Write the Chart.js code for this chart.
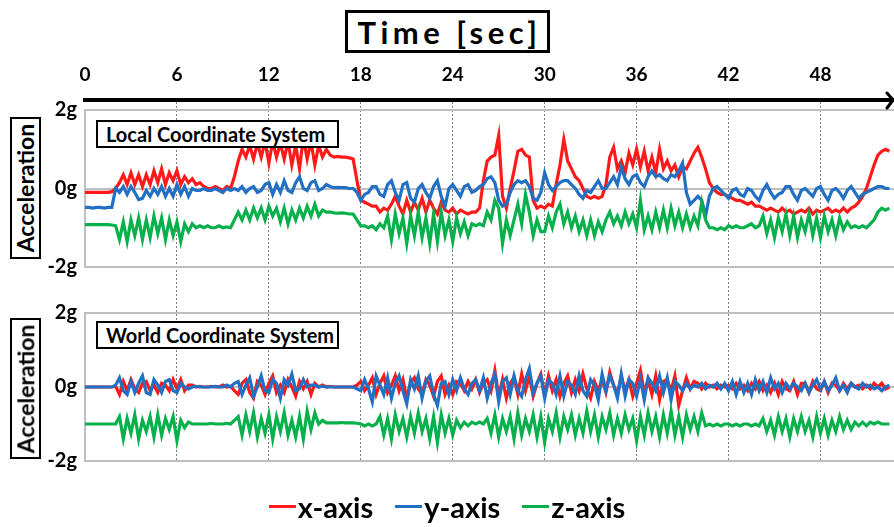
<!DOCTYPE html>
<html>
<head>
<meta charset="utf-8">
<script src="https://cdn.jsdelivr.net/npm/chart.js@4"></script>
<style>
html,body{margin:0;padding:0;background:#fff}
#wrap{position:relative;width:894px;height:527px;overflow:hidden;font-family:Lato,"Open Sans",sans-serif;font-weight:700;color:#000}
#chart{position:absolute;left:0;top:0}
.box{position:absolute;border:2px solid #000;background:#fff;box-sizing:border-box;display:flex;align-items:center;justify-content:center;z-index:2;white-space:nowrap}
#title{left:345px;top:10px;width:205px;height:43px;font-size:31px;letter-spacing:4.5px;padding-left:4px;border-width:3px}
.yname{left:10px;width:31px}
.yname span{transform:rotate(-90deg);white-space:nowrap;font-size:23px}
#yname1{top:117px;height:142px}
#yname2{top:318px;height:141px}
.panel{left:96px;width:243px;height:28px;font-size:20px;justify-content:flex-start;padding-left:8px}
#panel1{top:120px}
#panel2{top:321px}
#legend{position:absolute;left:0;right:0;top:489px;display:flex;justify-content:center;gap:22px;font-size:29px}
.item{display:flex;align-items:center}
.item i{display:inline-block;width:27px;height:3px;margin-right:2px}
</style>
</head>
<body>
<div id="wrap">
  <canvas id="chart" width="894" height="527"></canvas>
  <div class="box" id="title">Time [sec]</div>
  <div class="box yname" id="yname1"><span>Acceleration</span></div>
  <div class="box yname" id="yname2"><span>Acceleration</span></div>
  <div class="box panel" id="panel1">Local Coordinate System</div>
  <div class="box panel" id="panel2">World Coordinate System</div>
  <div id="legend"></div>
</div>
<script>
// samples every quarter second, t = 0 .. 52.5 s (one row = one second)
const step = 0.25;
const timeTicks = [0, 6, 12, 18, 24, 30, 36, 42, 48];
const accelTicks = [-2, -1, 0, 1, 2];
const accelTickLabels = ['-2g', '', '0g', '', '2g'];
const seriesNames = ['x-axis', 'y-axis', 'z-axis'];

// local coordinate system (top panel), in g
const localX = [
  -0.1,-0.1,-0.1,-0.1,  -0.1,-0.1,-0.1,-0.08,  0.0,0.15,0.35,0.1,  0.4,0.1,0.35,0.05,
  0.35,0.1,0.45,0.15,  0.5,0.1,0.4,0.2,  0.45,0.1,0.3,0.15,  0.25,0.1,0.15,0.05,
  0.0,0.0,0.05,0.0,  -0.05,0.05,0.0,0.3,  0.7,1.0,0.8,1.1,  0.75,1.15,0.8,1.2,
  0.65,1.2,0.8,1.15,  0.75,1.2,0.6,1.1,  0.5,1.3,0.75,1.2,  0.6,1.1,0.8,1.0,
  0.85,0.8,0.82,0.8,  0.8,0.78,0.75,0.2,  -0.3,-0.35,-0.4,-0.45,  -0.45,-0.6,-0.5,-0.55,
  -0.4,-0.2,-0.45,-0.65,  -0.3,-0.6,-0.35,-0.55,  -0.25,-0.6,-0.3,-0.5,  -0.65,-0.35,-0.55,-0.6,
  -0.5,-0.65,-0.55,-0.6,  -0.65,-0.6,-0.6,-0.5,  0.2,0.7,0.8,0.85,  1.35,-0.2,-0.5,0.0,
  0.45,0.95,1.0,0.85,  0.8,-0.3,-0.5,-0.45,  -0.5,-0.4,-0.45,0.1,  0.6,1.25,0.7,0.5,
  0.3,0.2,0.0,-0.2,  -0.25,-0.2,-0.25,-0.2,  0.1,0.8,1.05,0.5,  0.7,0.4,0.9,0.6,
  1.0,0.55,0.95,0.45,  0.8,0.4,1.0,0.5,  0.7,0.45,0.6,0.3,  0.55,0.5,0.7,0.9,
  1.05,0.8,0.5,0.15,  0.0,-0.1,-0.15,-0.15,  -0.2,-0.25,-0.3,-0.3,  -0.35,-0.4,-0.35,-0.45,
  -0.45,-0.5,-0.55,-0.5,  -0.55,-0.6,-0.5,-0.6,  -0.55,-0.65,-0.6,-0.55,  -0.6,-0.5,-0.65,-0.55,
  -0.6,-0.55,-0.5,-0.6,  -0.55,-0.6,-0.5,-0.6,  -0.5,-0.45,-0.35,-0.2,  0.0,0.3,0.6,0.85,
  0.95,1.0,0.95];
const localY = [
  -0.48,-0.48,-0.5,-0.48,  -0.48,-0.5,-0.48,-0.48,  0.0,-0.1,0.05,-0.15,  0.05,-0.1,-0.28,-0.25,
  -0.05,-0.2,0.0,-0.15,  0.05,-0.2,0.0,-0.2,  0.1,-0.15,0.05,-0.2,  0.0,-0.05,-0.05,0.0,
  -0.05,-0.05,0.0,-0.05,  -0.1,0.0,-0.05,0.0,  -0.05,0.05,-0.1,0.0,  0.05,-0.1,-0.05,0.1,
  0.15,-0.15,0.1,-0.1,  0.2,-0.05,-0.1,0.15,  0.3,0.0,-0.05,0.15,  0.2,-0.05,0.0,0.1,
  0.05,0.02,0.03,0.02,  0.02,0.0,0.0,-0.1,  -0.3,-0.15,-0.1,0.05,  0.05,-0.15,-0.2,0.1,
  0.2,-0.1,-0.3,0.1,  0.15,-0.25,-0.35,0.0,  0.1,-0.1,-0.25,0.05,  0.2,-0.2,-0.45,0.0,
  0.1,-0.05,-0.2,0.05,  0.1,-0.1,-0.05,0.05,  0.1,0.25,0.3,0.15,  -0.3,-0.45,-0.4,-0.1,
  0.1,0.2,0.15,0.2,  0.05,-0.25,-0.3,-0.1,  0.4,0.1,-0.05,0.05,  0.15,0.2,0.2,0.1,
  0.0,-0.15,-0.25,-0.05,  -0.1,0.05,0.2,0.0,  0.0,0.15,0.3,0.1,  0.55,0.25,0.1,0.3,
  0.35,0.15,0.05,0.3,  0.45,0.3,0.35,0.25,  0.2,0.35,0.3,0.45,  0.65,-0.1,-0.4,-0.3,
  -0.2,-0.3,-0.7,-0.2,  0.0,0.05,-0.05,-0.15,  -0.25,-0.05,0.0,-0.15,  -0.2,0.0,-0.05,-0.2,
  -0.3,-0.05,0.1,-0.1,  -0.25,-0.15,-0.1,0.05,  0.05,-0.15,-0.3,-0.05,  0.0,-0.1,-0.2,0.0,
  0.05,-0.15,-0.3,-0.05,  0.0,-0.1,-0.25,-0.05,  0.05,-0.1,-0.25,-0.15,  -0.1,-0.05,0.0,0.05,
  0.05,0.0,0.0];
const localZ = [
  -0.92,-0.92,-0.92,-0.92,  -0.92,-0.92,-0.92,-0.93,  -0.95,-1.3,-0.85,-1.35,  -0.8,-1.2,-0.75,-1.3,
  -0.8,-1.25,-0.7,-1.15,  -0.75,-1.3,-0.8,-1.2,  -0.85,-1.35,-0.9,-1.1,  -0.9,-1.0,-0.95,-1.0,
  -0.95,-1.0,-1.0,-0.95,  -1.0,-0.98,-1.0,-0.8,  -0.6,-0.8,-0.55,-0.8,  -0.5,-0.75,-0.5,-0.8,
  -0.45,-0.7,-0.5,-0.85,  -0.5,-0.9,-0.55,-0.8,  -0.5,-0.75,-0.45,-0.7,  -0.4,-0.7,-0.55,-0.6,
  -0.6,-0.62,-0.63,-0.62,  -0.63,-0.65,-0.65,-0.8,  -0.95,-0.95,-1.0,-0.95,  -1.05,-0.9,-1.0,-0.7,
  -1.3,-0.65,-1.15,-0.75,  -1.4,-0.7,-1.2,-0.6,  -1.25,-0.75,-1.4,-0.65,  -1.35,-0.6,-1.2,-0.8,
  -1.35,-0.75,-1.15,-0.85,  -1.2,-0.9,-0.95,-0.9,  -0.95,-0.6,-0.8,-0.3,  -0.5,-1.4,-0.8,-1.2,
  -0.8,-0.4,-0.9,-0.15,  -0.6,-1.2,-0.8,-1.1,  -1.1,-0.7,-1.0,-0.6,  -0.4,-0.9,-0.6,-1.0,
  -0.7,-1.1,-0.8,-1.2,  -0.8,-1.2,-0.85,-1.1,  -0.8,-0.6,-0.9,-0.7,  -0.95,-0.6,-0.9,-0.65,
  -1.0,-0.3,-1.05,-0.7,  -1.05,-0.6,-1.0,-0.55,  -1.0,-0.5,-0.95,-0.6,  -1.0,-0.65,-1.0,-0.7,
  -0.95,-0.35,-0.8,-1.0,  -1.0,-1.05,-1.0,-1.05,  -0.95,-1.0,-0.95,-1.0,  -1.0,-0.95,-0.9,-1.0,
  -0.95,-0.7,-1.15,-0.8,  -1.25,-0.75,-1.1,-0.65,  -1.2,-0.7,-1.25,-0.8,  -1.1,-0.65,-1.2,-0.75,
  -1.25,-0.7,-1.1,-0.8,  -1.2,-0.75,-1.05,-0.85,  -1.0,-0.95,-1.0,-0.95,  -1.0,-0.9,-0.8,-0.6,
  -0.5,-0.55,-0.5];

// world coordinate system (bottom panel), in g
const worldX = [
  0,0,0,0,  0,0,0,0,  0.02,-0.2,0.15,-0.1,  0.2,-0.05,-0.15,0.1,
  0.15,-0.1,0.05,-0.15,  0.1,0.05,-0.1,0.2,  -0.05,0.2,-0.1,0.05,  0.05,0.0,0.02,0.0,
  0.0,0.02,0.0,0.0,  0.05,0.0,0.02,-0.1,  -0.2,0.1,0.2,-0.15,  -0.3,0.15,0.05,-0.2,
  0.1,0.3,-0.15,0.05,  -0.15,0.2,0.0,-0.25,  0.15,-0.05,0.15,-0.2,  0.1,0.0,0.05,0.0,
  0.02,0.0,0.0,0.0,  0.0,0.0,0.0,0.05,  0.15,-0.1,0.05,0.25,  -0.2,0.1,0.3,-0.15,
  0.05,0.3,-0.1,0.2,  -0.3,0.1,0.25,-0.05,  -0.2,0.2,0.05,-0.25,  0.15,0.3,-0.2,0.05,
  -0.2,0.15,0.1,-0.1,  0.15,-0.05,0.2,-0.15,  0.1,0.2,-0.1,0.45,  -0.25,0.2,-0.3,0.1,
  0.25,-0.2,0.35,-0.1,  0.3,-0.25,0.1,0.35,  -0.2,0.3,-0.1,0.2,  -0.25,0.1,0.3,-0.15,
  0.2,-0.1,0.35,-0.05,  -0.3,0.15,-0.1,0.2,  -0.15,0.4,0.05,-0.2,  0.3,-0.1,0.2,-0.25,
  0.1,0.45,-0.15,0.2,  -0.2,0.3,-0.35,0.15,  0.2,-0.1,0.3,-0.5,  -0.1,0.25,-0.05,0.15,
  0.1,-0.05,0.1,0.0,  0.05,-0.05,0.05,0.0,  0.05,-0.05,0.1,-0.05,  0.05,-0.1,0.1,-0.05,
  0.15,-0.1,0.05,-0.15,  0.1,-0.2,0.15,-0.05,  -0.1,0.15,-0.2,0.1,  0.1,-0.15,0.15,-0.05,
  -0.1,0.15,-0.15,0.1,  0.05,-0.1,0.1,-0.05,  0.1,0.0,0.05,-0.05,  0.05,-0.05,0.1,0.0,
  0.1,-0.05,0.0];
const worldY = [
  0,0,0,0,  0,0,0,0,  0.05,0.25,-0.1,-0.2,  0.15,-0.15,0.1,0.3,
  -0.15,-0.2,0.2,0.05,  -0.15,0.15,0.2,-0.1,  -0.15,0.1,0.0,-0.05,  0.0,0.02,0.0,0.0,
  0.0,0.0,0.02,0.0,  0.0,0.05,0.0,0.1,  0.15,-0.2,0.05,0.25,  -0.25,0.0,0.3,-0.1,
  -0.15,0.2,0.1,-0.3,  0.2,0.05,0.35,-0.1,  -0.05,0.2,0.0,0.05,  0.05,0.0,0.02,0.0,
  0.0,0.0,0.0,0.0,  0.0,0.0,0.0,-0.05,  -0.1,0.2,-0.05,-0.4,  0.3,0.05,-0.2,0.25,
  -0.3,0.1,0.3,-0.1,  -0.45,0.2,-0.05,0.3,  -0.3,0.15,0.3,-0.2,  -0.5,0.1,0.15,-0.2,
  0.2,-0.1,0.25,-0.05,  -0.2,0.1,0.2,-0.1,  0.25,-0.3,0.1,0.35,  -0.4,0.15,0.25,-0.2,
  0.3,-0.1,-0.25,0.2,  0.5,-0.15,0.1,0.3,  -0.3,0.2,0.1,-0.2,  0.3,-0.25,0.15,0.05,
  -0.2,0.3,-0.1,-0.25,  0.2,0.05,-0.35,0.35,  -0.1,0.3,0.05,-0.3,  0.35,-0.25,0.2,0.1,
  -0.25,0.2,-0.35,0.25,  0.1,-0.1,0.3,-0.15,  0.25,-0.35,0.15,0.05,  -0.1,0.1,-0.05,0.05,
  0.0,0.1,-0.05,0.05,  0.0,0.1,-0.05,0.1,  -0.1,0.15,-0.2,0.15,  -0.15,0.1,-0.2,0.2,
  -0.1,0.15,-0.15,0.25,  -0.05,0.1,-0.15,0.1,  -0.05,0.1,0.0,-0.1,  0.1,-0.15,0.05,0.2,
  -0.05,0.15,-0.1,0.05,  0.25,-0.1,0.05,-0.15,  0.1,0.0,-0.05,0.1,  0.0,0.05,-0.05,0.0,
  -0.1,0.0,0.05];
const worldZ = [
  -1.0,-1.0,-1.0,-1.0,  -1.0,-1.0,-1.0,-1.0,  -1.0,-0.8,-1.4,-0.85,  -1.25,-0.75,-1.4,-0.9,
  -1.2,-0.8,-1.35,-0.75,  -1.3,-0.85,-1.15,-0.8,  -1.45,-0.9,-1.1,-0.95,  -1.0,-1.0,-1.0,-1.0,
  -1.0,-0.98,-1.0,-1.0,  -1.0,-0.98,-1.0,-0.9,  -0.8,-1.3,-0.75,-1.2,  -0.7,-1.35,-0.85,-1.25,
  -0.75,-1.4,-0.8,-1.2,  -0.7,-1.3,-0.9,-1.35,  -0.8,-1.4,-0.65,-1.15,  -0.7,-1.0,-0.9,-0.97,
  -0.97,-0.97,-0.97,-0.96,  -0.97,-0.97,-0.97,-0.98,  -1.0,-1.05,-1.0,-1.05,  -1.0,-0.8,-1.3,-0.85,
  -1.4,-0.75,-1.2,-0.85,  -1.35,-0.8,-1.25,-0.7,  -1.2,-0.85,-1.4,-0.8,  -1.5,-0.75,-1.25,-0.85,
  -1.3,-0.9,-1.1,-0.95,  -1.05,-0.95,-1.0,-0.95,  -1.0,-0.85,-1.25,-0.75,  -1.35,-0.85,-1.2,-0.8,
  -1.4,-0.7,-1.3,-0.85,  -1.2,-0.75,-1.35,-0.8,  -1.5,-0.85,-1.2,-0.7,  -1.35,-0.8,-1.15,-0.75,
  -1.3,-0.85,-1.25,-0.65,  -1.2,-0.75,-1.35,-0.8,  -1.15,-0.7,-1.3,-0.85,  -1.25,-0.75,-1.15,-0.85,
  -1.45,-0.8,-1.3,-0.7,  -1.2,-0.8,-1.35,-0.75,  -1.25,-0.65,-1.3,-0.8,  -1.35,-0.75,-1.15,-0.8,
  -1.2,-0.7,-1.05,-1.0,  -1.05,-1.0,-1.05,-1.0,  -1.0,-1.05,-1.0,-1.05,  -1.0,-1.0,-1.05,-1.0,
  -1.05,-0.85,-1.2,-0.9,  -1.3,-0.8,-1.2,-0.85,  -1.35,-0.85,-1.2,-0.8,  -1.2,-0.9,-1.35,-0.8,
  -1.25,-0.85,-1.3,-0.9,  -1.2,-0.8,-1.15,-0.9,  -1.15,-0.95,-1.05,-0.95,  -1.05,-0.95,-1.0,-0.95,
  -1.0,-1.0,-1.0];

const colors = ['#ff1a1a', '#2170c4', '#08b04c'];
const FONT = 'Lato';

const pts = (arr) => arr.map((v, i) => ({x: i * step, y: v}));
const mkSet = (arr, idx, axis) => ({
  label: seriesNames[idx], data: pts(arr), yAxisID: axis,
  borderColor: colors[idx], borderWidth: 3.2, pointRadius: 0, tension: 0,
  order: 2 - idx, fill: false
});

const datasets = [
  mkSet(localX, 0, 'yLocal'), mkSet(localY, 1, 'yLocal'), mkSet(localZ, 2, 'yLocal'),
  mkSet(worldX, 0, 'yWorld'), mkSet(worldY, 1, 'yWorld'), mkSet(worldZ, 2, 'yWorld')
];

// fixed left column width so both panels line up
const LEFT = 85;
const spacer = (w, sw) => ({
  type: 'linear', position: 'left', stack: 'panels', stackWeight: sw, weight: w,
  min: 0, max: 1, ticks: {display: false}, grid: {display: false}, border: {display: false},
  afterFit: (s) => { s.width = LEFT; }
});
const panelAxis = (w, sw) => ({
  type: 'linear', position: 'left', stack: 'panels', stackWeight: sw, weight: w,
  min: -2, max: 2,
  afterBuildTicks: (s) => { s.ticks = accelTicks.map(v => ({value: v})); },
  afterFit: (s) => { s.width = LEFT; },
  ticks: {callback: (v, i) => accelTickLabels[i], color: '#000', padding: 8,
          font: {family: FONT, size: 20, weight: 'bold'}},
  grid: {color: '#bfbfbf', lineWidth: 2, drawTicks: false},
  border: {display: true, color: '#bfbfbf', width: 2}
});

const arrowHead = {
  id: 'arrowHead',
  afterDraw(chart) {
    const s = chart.scales.x, ctx = chart.ctx;
    const x = s.right - 1, y = s.bottom;
    ctx.save();
    ctx.strokeStyle = '#000'; ctx.lineWidth = 3; ctx.lineCap = 'round';
    ctx.beginPath(); ctx.moveTo(x - 6, y - 7); ctx.lineTo(x, y); ctx.lineTo(x - 6, y + 8); ctx.stroke();
    ctx.restore();
  }
};

new Chart(document.getElementById('chart'), {
  type: 'line',
  data: {datasets},
  plugins: [arrowHead],
  options: {
    responsive: false, animation: false, devicePixelRatio: 1,
    layout: {padding: {top: 0, left: 0, right: 0, bottom: 66}},
    plugins: {legend: {display: false}, tooltip: {enabled: false}},
    scales: {
      x: {
        type: 'linear', position: 'top', min: 0, max: 52.8,
        afterBuildTicks: (s) => { s.ticks = timeTicks.map(v => ({value: v})); },
        afterFit: (s) => { s.height = 100; },
        ticks: {color: '#000', padding: 14, autoSkip: false, maxRotation: 0,
                font: {family: FONT, size: 19, weight: 'bold'}},
        grid: {drawTicks: false, lineWidth: 1,
               color: (c) => (c.tick && c.tick.value === 0) ? 'rgba(0,0,0,0)' : '#7f7f7f'},
        border: {display: true, color: '#000', width: 4, dash: [2, 2]}
      },
      yTop: spacer(4, 10),
      yLocal: panelAxis(3, 157),
      yGap: spacer(2, 46),
      yWorld: panelAxis(1, 148)
    }
  }
});

// legend built from the series names
const lg = document.getElementById('legend');
seriesNames.forEach((n, i) => {
  const d = document.createElement('div'); d.className = 'item';
  d.innerHTML = `<i style="background:${colors[i]}"></i><span>${n}</span>`;
  lg.appendChild(d);
});
</script>
</body>
</html>
